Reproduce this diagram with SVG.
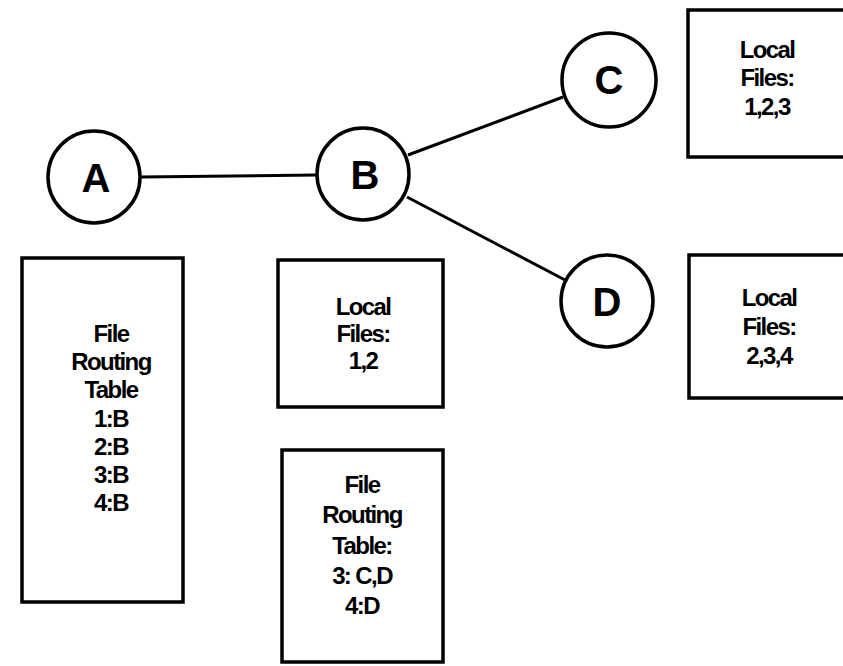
<svg xmlns="http://www.w3.org/2000/svg" width="843" height="666" viewBox="0 0 843 666">
<style>
.bg{fill:#fff}
.node circle{fill:#fff;stroke:#000;stroke-width:3.5}
.node text{font-family:"Liberation Sans",Arial,sans-serif;font-weight:bold;font-size:40px;text-anchor:middle;fill:#000}
.box rect{fill:#fff;stroke:#000;stroke-width:3.5}
.box text{font-family:"Liberation Sans",Arial,sans-serif;font-weight:bold;font-size:24px;letter-spacing:-1.6px;text-anchor:middle;fill:#000}
.edges line{stroke:#000;stroke-width:3}
</style>
<rect class="bg" x="0" y="0" width="843" height="666"/>
<g id="connectors" class="edges">
<line x1="140" y1="177" x2="317" y2="175"/>
<line x1="408" y1="155" x2="563" y2="97"/>
<line x1="407" y1="197" x2="565" y2="280"/>
</g>
<g id="node-A" class="node"><circle cx="94" cy="177" r="46"/><text x="96" y="192">A</text></g>
<g id="node-B" class="node"><circle cx="363" cy="174" r="46"/><text x="365" y="189">B</text></g>
<g id="node-C" class="node"><circle cx="609" cy="80" r="47"/><text x="609" y="94">C</text></g>
<g id="node-D" class="node"><circle cx="607" cy="301" r="46"/><text x="607" y="316">D</text></g>
<g id="box-A-routing" class="box">
<rect x="22" y="258" width="161" height="344"/>
<text x="111" y="342">File</text>
<text x="111" y="370">Routing</text>
<text x="111" y="398">Table</text>
<text x="111" y="427">1:B</text>
<text x="111" y="455">2:B</text>
<text x="111" y="483">3:B</text>
<text x="111" y="511">4:B</text>
</g>
<g id="box-B-local" class="box">
<rect x="278" y="260" width="165" height="147"/>
<text x="363" y="315">Local</text>
<text x="363" y="342">Files:</text>
<text x="363" y="369">1,2</text>
</g>
<g id="box-B-routing" class="box">
<rect x="282" y="450" width="161" height="212"/>
<text x="362" y="493">File</text>
<text x="362" y="523">Routing</text>
<text x="362" y="554">Table:</text>
<text x="362" y="584">3: C,D</text>
<text x="362" y="614">4:D</text>
</g>
<g id="box-C-local" class="box">
<rect x="688" y="10" width="170" height="147"/>
<text x="767" y="58">Local</text>
<text x="767" y="86">Files:</text>
<text x="767" y="115">1,2,3</text>
</g>
<g id="box-D-local" class="box">
<rect x="689" y="255" width="170" height="143"/>
<text x="769" y="306">Local</text>
<text x="769" y="335">Files:</text>
<text x="769" y="364">2,3,4</text>
</g>
</svg>
